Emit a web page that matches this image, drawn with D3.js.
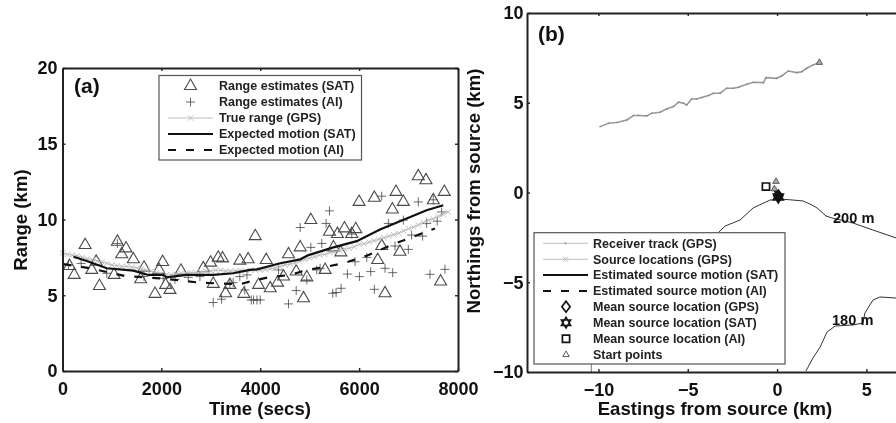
<!DOCTYPE html>
<html>
<head>
<meta charset="utf-8">
<script src="https://cdn.jsdelivr.net/npm/d3@7"></script>
<style>
  html, body { margin: 0; padding: 0; background: #fff; overflow: hidden; }
  svg { display: block; filter: blur(0.45px); }
  text { font-family: "Liberation Sans", Arial, sans-serif; font-weight: bold; fill: #111; }
  .tick text { font-size: 18px; font-family: "Liberation Sans", Arial, sans-serif; }
  .axis-label { font-size: 18.6px; }
  .panel-tag { font-size: 21px; }
  .legend-text { font-size: 12.5px; fill: #222; }
  .contour-label { font-size: 14.6px; }
</style>
</head>
<body>
<svg id="chart" width="896" height="423"></svg>
<script>
// panel (a): range against time
const satTimes = [458, 236, 747, 1110, 1198, 1285, 1433, 1649, 1582, 2026, 1871, 1952, 2086, 2174, 2396, 2847, 2995, 3150, 3237, 3049, 3587, 3755, 3668, 3298, 3385, 592, 680, 1043, 141, 7197, 7352, 7722, 6746, 6308, 5999, 6894, 6672, 7500, 5023, 3899, 4808, 4572, 5400, 5561, 5703, 5932, 5851, 6457, 5481, 5629, 6826, 6376, 5312, 4942, 4727, 4471, 4350, 4202, 3966, 4121, 4875, 6524, 7648]
const satRanges = [8.31, 6.34, 5.61, 8.53, 7.7, 8.09, 7.37, 6.82, 6.05, 7.19, 5.09, 6.67, 5.68, 5.35, 6.62, 6.78, 7.15, 7.48, 7.43, 5.75, 7.28, 7.37, 5.09, 5.13, 5.68, 6.67, 7.21, 6.34, 6.93, 12.85, 12.59, 11.82, 11.82, 11.43, 11.16, 11.16, 10.66, 11.27, 9.96, 8.9, 8.16, 7.7, 9.19, 9.04, 9.41, 9.36, 9.04, 8.25, 8.16, 7.83, 7.87, 7.32, 6.67, 6.18, 6.56, 6.23, 5.83, 5.46, 5.68, 7.32, 4.8, 5.13, 5.9]

const aiTimes = [5400, 4808, 5332, 6457, 7197, 7500, 7669, 7580, 7366, 6591, 6894, 7062, 7284, 6995, 6726, 5023, 5245, 5851, 5918, 6154, 5763, 6005, 6234, 6524, 6679, 7433, 7736, 6308, 5467, 5534, 5635, 4727, 4572, 4942, 4370, 5211, 5144, 3731, 3865, 3818, 3933, 4000, 121, 377, 895, 1110, 1649, 3049, 3217, 3688, 3587, 3385, 3452, 2039, 2275, 2544, 2780]
const aiRanges = [10.57, 9.47, 9.74, 11.54, 11.16, 11.3, 10.5, 9.89, 9.74, 9.74, 9.96, 8.97, 8.9, 8.03, 8.25, 8.16, 8.42, 9.04, 7.21, 7.5, 6.4, 6.23, 6.56, 6.78, 6.49, 6.38, 6.71, 5.39, 5.13, 5.18, 5.46, 5.31, 4.43, 6.01, 6.67, 6.78, 6.67, 6.34, 4.69, 4.69, 4.69, 4.69, 7, 7.1, 6.45, 8.42, 6.23, 4.52, 4.74, 5.35, 6.23, 5.79, 5.83, 6.12, 6.05, 6.18, 6.23]

const gpsTimes = d3.range(0, 7900, 100)
const gpsRanges = [7.8, 7.7, 7.65, 7.6, 7.5, 7.4, 7.35, 7.25, 7.2, 7.1,
  7, 6.95, 6.9, 6.9, 6.85, 6.8, 6.75, 6.65, 6.6, 6.5,
  6.4, 6.35, 6.35, 6.4, 6.45, 6.45, 6.5, 6.5, 6.55, 6.6,
  6.6, 6.65, 6.65, 6.6, 6.6, 6.6, 6.65, 6.6, 6.65, 6.65,
  6.65, 6.7, 6.75, 6.8, 6.9, 7, 7.05, 7.15, 7.25, 7.35,
  7.45, 7.55, 7.65, 7.7, 7.8, 7.85, 7.95, 8.05, 8.1, 8.2,
  8.35, 8.4, 8.5, 8.6, 8.7, 8.8, 8.9, 9, 9.1, 9.25,
  9.4, 9.5, 9.65, 9.8, 9.95, 10.05, 10.2, 10.35, 10.5]

const satMotionTimes = [222, 491, 895, 1433, 1736, 2039, 2106, 2510, 3049, 3452, 3789, 3933, 4404, 4808, 4976, 5481, 5952, 6423, 6961, 7365, 7702]
const satMotion = [7.54, 7.26, 6.78, 6.62, 6.34, 6.34, 6.18, 6.34, 6.34, 6.45, 6.67, 6.71, 7.11, 7.37, 7.65, 8.16, 8.57, 9.34, 10.07, 10.61, 10.94]
const aiMotionTimes = [20, 559, 1265, 1972, 2780, 3587, 3832, 4168, 4606, 4942, 5346, 5683, 6154, 6759, 7096, 7533]
const aiMotion = [7.06, 6.78, 6.27, 6.12, 5.83, 5.72, 5.94, 6.18, 6.34, 6.67, 6.89, 7.11, 7.61, 8.46, 8.86, 9.41]

const rangeLegend = ['Range estimates (SAT)', 'Range estimates (AI)', 'True range (GPS)', 'Expected motion (SAT)', 'Expected motion (AI)']

// panel (b): map around the source
const trackEast = [2.37, 2.03, 1.66, 1.38, 1.1, 0.63, 0.26, -0.02, -0.62, -0.76, -1.32, -1.7, -2.16, -2.44, -2.82, -3.19, -3.56, -3.84, -4.22, -4.5, -4.78, -5.06, -5.24, -5.52, -5.8, -6.17, -6.55, -7.01, -7.3, -7.76, -8.04, -8.41, -8.97, -9.44, -9.91]
const trackNorth = [7.24, 7.11, 6.92, 6.73, 6.68, 6.77, 6.49, 6.36, 6.4, 6.12, 6.14, 6.03, 5.86, 5.81, 5.81, 5.53, 5.53, 5.4, 5.29, 5.21, 5.21, 4.88, 4.97, 5.03, 4.79, 4.66, 4.47, 4.42, 4.27, 4.29, 4.29, 4.04, 3.9, 3.86, 3.67]

const sourceEast = [-0.12, -0.05, 0.02, 0.08, 0.14, 0.1]
const sourceNorth = [0.2, 0.05, -0.05, -0.15, -0.25, -0.35]
const satSourceEast = [-0.1, 0, 0.1, 0.17, 0.12]
const satSourceNorth = [0.05, -0.05, -0.15, -0.3, -0.45]
const aiSourceEast = [-0.15, -0.02, 0.1, 0.16]
const aiSourceNorth = [0.1, -0.02, -0.2, -0.38]

const meanGps = [0.07, -0.2]
const meanSat = [0.07, -0.25]
const meanAi = [-0.62, 0.33]
const startPoints = [[2.37, 7.24], [-0.06, 0.61], [-0.15, 0.2]]

const contour200East = [-3.25, -2.91, -2.07, -1.34, -0.39, 0.17, 1.45, 1.96, 2.24, 2.74, 3.08, 4.25, 5.37, 6.66]
const contour200North = [-2.2, -1.87, -1.53, -0.86, -0.42, -0.36, -0.47, -0.7, -0.86, -1.31, -1.42, -1.7, -2.09, -2.53]
const contour180East = [1.62, 2.01, 2.41, 2.8, 3.25, 4.25, 4.81, 4.92, 5.37, 5.76, 6.66]
const contour180North = [-9.94, -9.22, -8.61, -7.77, -7.44, -7.38, -7.27, -6.71, -5.99, -5.82, -5.88]
const contourStubEast = [-10.4, -10.4]
const contourStubNorth = [-9.3, -10]

const mapLegend = ['Receiver track (GPS)', 'Source locations (GPS)', 'Estimated source motion (SAT)', 'Estimated source motion (AI)', 'Mean source location (GPS)', 'Mean source location (SAT)', 'Mean source location (AI)', 'Start points']

const svg = d3.select('#chart')
const zip = (xs, ys) => xs.map((x, i) => [x, ys[i]])

const plusPath = r => `M${-r},0H${r}M0,${-r}V${r}`
const crossPath = r => `M${-r},${-r}L${r},${r}M${-r},${r}L${r},${-r}`
const trianglePath = size => d3.symbol(d3.symbolTriangle, size)()
const diamondPath = r => `M0,${-r}L${r * 0.75},0L0,${r}L${-r * 0.75},0Z`
const squarePath = r => `M${-r},${-r}H${r}V${r}H${-r}Z`
const starPath = r => trianglePath(r * r * 1.3) + `M0,${r}L${r * 0.87},${-r * 0.5}L${-r * 0.87},${-r * 0.5}Z`

function drawMarks(g, pts, x, y, path, style) {
  g.append('g').selectAll('path').data(pts).enter().append('path')
    .attr('d', path)
    .attr('transform', d => `translate(${x(d[0])},${y(d[1])})`)
    .attr('fill', style.fill || 'none')
    .attr('stroke', style.stroke)
    .attr('stroke-width', style.width)
}

function drawLine(g, pts, x, y, style) {
  const line = d3.line().x(d => x(d[0])).y(d => y(d[1]))
  g.append('path')
    .attr('d', line(pts))
    .attr('fill', 'none')
    .attr('stroke', style.stroke)
    .attr('stroke-width', style.width)
    .attr('stroke-dasharray', style.dash || null)
}

function drawFrame(x, y, xTicks, yTicks, yPad) {
  const minus = d => String(d).replace('-', '\u2212')
  const [x0, x1] = x.range()
  const [y0, y1] = y.range()
  svg.append('g').attr('transform', `translate(0,${y0})`)
    .call(d3.axisBottom(x).tickValues(xTicks).tickFormat(minus).tickSize(-3).tickSizeOuter(0).tickPadding(11))
  svg.append('g').attr('transform', `translate(0,${y1})`)
    .call(d3.axisTop(x).tickValues(xTicks).tickFormat('').tickSize(-3).tickSizeOuter(0))
  svg.append('g').attr('transform', `translate(${x0},0)`)
    .call(d3.axisLeft(y).tickValues(yTicks).tickFormat(minus).tickSize(-3).tickSizeOuter(0).tickPadding(yPad))
  svg.append('g').attr('transform', `translate(${x1},0)`)
    .call(d3.axisRight(y).tickValues(yTicks).tickFormat('').tickSize(-3).tickSizeOuter(0))
  svg.selectAll('.domain').attr('stroke', '#222').attr('stroke-width', 2)
  svg.selectAll('.tick line').attr('stroke', '#222').attr('stroke-width', 1.4)
  svg.selectAll('.tick text').attr('fill', '#111')
}

function legendBox(left, top, right, bottom) {
  svg.append('rect')
    .attr('x', left).attr('y', top)
    .attr('width', right - left).attr('height', bottom - top)
    .attr('fill', '#fff').attr('stroke', '#555').attr('stroke-width', 1.2)
}

function legendRows(labels, rowYs, textX) {
  svg.append('g').selectAll('text').data(labels).enter().append('text')
    .attr('class', 'legend-text')
    .attr('x', textX)
    .attr('y', (d, i) => rowYs[i] + 4.4)
    .text(d => d)
}

function sampleLine(x0, x1, yPos, style) {
  svg.append('line')
    .attr('x1', x0).attr('x2', x1).attr('y1', yPos).attr('y2', yPos)
    .attr('stroke', style.stroke).attr('stroke-width', style.width)
    .attr('stroke-dasharray', style.dash || null)
}

function sampleMark(xPos, yPos, path, style) {
  svg.append('path')
    .attr('d', path)
    .attr('transform', `translate(${xPos},${yPos})`)
    .attr('fill', style.fill || 'none')
    .attr('stroke', style.stroke)
    .attr('stroke-width', style.width)
}

const triangleStyle = { stroke: '#4a4a4a', width: 1.1 }
const plusStyle = { stroke: '#444', width: 0.8 }
const gpsStyle = { stroke: '#b5b5b5', width: 0.9 }
const solidStyle = { stroke: '#111', width: 2.2 }
const dashStyle = { stroke: '#111', width: 2.2, dash: '8 10' }

// panel (a)
const xTime = d3.scaleLinear().domain([0, 8000]).range([62.5, 458])
const yRange = d3.scaleLinear().domain([0, 20]).range([371, 68])
const plotA = svg.append('g')

drawMarks(plotA, zip(satTimes, satRanges), xTime, yRange, trianglePath(62), triangleStyle)
drawMarks(plotA, zip(aiTimes, aiRanges), xTime, yRange, plusPath(4.5), plusStyle)
drawLine(plotA, zip(gpsTimes, gpsRanges), xTime, yRange, gpsStyle)
drawMarks(plotA, zip(gpsTimes, gpsRanges), xTime, yRange, crossPath(2.6), gpsStyle)
drawLine(plotA, zip(satMotionTimes, satMotion), xTime, yRange, solidStyle)
drawLine(plotA, zip(aiMotionTimes, aiMotion), xTime, yRange, dashStyle)
drawFrame(xTime, yRange, [0, 2000, 4000, 6000, 8000], [0, 5, 10, 15, 20], 5)

const rowsA = [86, 102, 118, 134, 150]
legendBox(159, 75.5, 361.5, 160)
sampleMark(190.5, rowsA[0], trianglePath(62), triangleStyle)
sampleMark(190.5, rowsA[1], plusPath(4.5), plusStyle)
sampleLine(168, 213, rowsA[2], gpsStyle)
sampleMark(190.5, rowsA[2], crossPath(2.6), gpsStyle)
sampleLine(168, 213, rowsA[3], solidStyle)
sampleLine(168, 213, rowsA[4], dashStyle)
legendRows(rangeLegend, rowsA, 219)

svg.append('text').attr('class', 'panel-tag').attr('x', 74).attr('y', 92.5).text('(a)')
svg.append('text').attr('class', 'axis-label').attr('x', 260).attr('y', 415).attr('text-anchor', 'middle').text('Time (secs)')
svg.append('text').attr('class', 'axis-label').attr('text-anchor', 'middle')
  .attr('transform', 'translate(26.5,220) rotate(-90)').text('Range (km)')

// panel (b)
const xEast = d3.scaleLinear().domain([-14, 7]).range([527, 777 + 7 * 17.87])
const yNorth = d3.scaleLinear().domain([-10, 10]).range([372, 13])
const plotB = svg.append('g')
const contourStyle = { stroke: '#333', width: 1 }

drawLine(plotB, zip(contour200East, contour200North), xEast, yNorth, contourStyle)
drawLine(plotB, zip(contour180East, contour180North), xEast, yNorth, contourStyle)
drawLine(plotB, zip(contourStubEast, contourStubNorth), xEast, yNorth, { stroke: '#777', width: 1 })
drawLine(plotB, zip(trackEast, trackNorth), xEast, yNorth, { stroke: '#999', width: 1.6 })
drawMarks(plotB, zip(trackEast, trackNorth), xEast, yNorth, plusPath(0.8), { stroke: '#888', width: 0.8 })
drawMarks(plotB, zip(sourceEast, sourceNorth), xEast, yNorth, crossPath(2.4), gpsStyle)
drawLine(plotB, zip(satSourceEast, satSourceNorth), xEast, yNorth, solidStyle)
drawLine(plotB, zip(aiSourceEast, aiSourceNorth), xEast, yNorth, { stroke: '#111', width: 2.2 })
drawMarks(plotB, startPoints, xEast, yNorth, trianglePath(18), { stroke: '#555', width: 0.9, fill: '#aaa' })
drawMarks(plotB, [meanGps], xEast, yNorth, diamondPath(6), { stroke: '#111', width: 1.6, fill: '#111' })
drawMarks(plotB, [meanSat], xEast, yNorth, starPath(6), { stroke: '#111', width: 1.4, fill: '#111' })
drawMarks(plotB, [meanAi], xEast, yNorth, squarePath(3.6), { stroke: '#111', width: 1.7 })
drawFrame(xEast, yNorth, [-10, -5, 0, 5], [-10, -5, 0, 5, 10], 3.5)

svg.append('text').attr('class', 'contour-label').attr('x', 833).attr('y', 223).text('200 m')
svg.append('text').attr('class', 'contour-label').attr('x', 832).attr('y', 325).text('180 m')

const rowsB = [243.3, 259.3, 275, 291, 306.7, 322.7, 338.7, 354.7]
legendBox(534, 232.7, 785, 364)
sampleLine(543, 588, rowsB[0], gpsStyle)
sampleMark(565.5, rowsB[0], plusPath(1), { stroke: '#888', width: 0.8 })
sampleLine(543, 588, rowsB[1], gpsStyle)
sampleMark(565.5, rowsB[1], crossPath(2.6), gpsStyle)
sampleLine(543, 588, rowsB[2], solidStyle)
sampleLine(543, 588, rowsB[3], dashStyle)
sampleMark(566, rowsB[4], diamondPath(5.5), { stroke: '#111', width: 1.7 })
sampleMark(566, rowsB[5], starPath(5.5), { stroke: '#111', width: 1.4 })
sampleMark(566, rowsB[6], squarePath(3.6), { stroke: '#111', width: 1.7 })
sampleMark(566, rowsB[7], trianglePath(18), { stroke: '#444', width: 0.9 })
legendRows(mapLegend, rowsB, 593)

svg.append('text').attr('class', 'panel-tag').attr('x', 538).attr('y', 40.5).text('(b)')
svg.append('text').attr('class', 'axis-label').attr('x', 715).attr('y', 415).attr('text-anchor', 'middle').text('Eastings from source (km)')
svg.append('text').attr('class', 'axis-label').attr('text-anchor', 'middle')
  .attr('transform', 'translate(480,191) rotate(-90)').text('Northings from source (km)')
</script>
</body>
</html>
